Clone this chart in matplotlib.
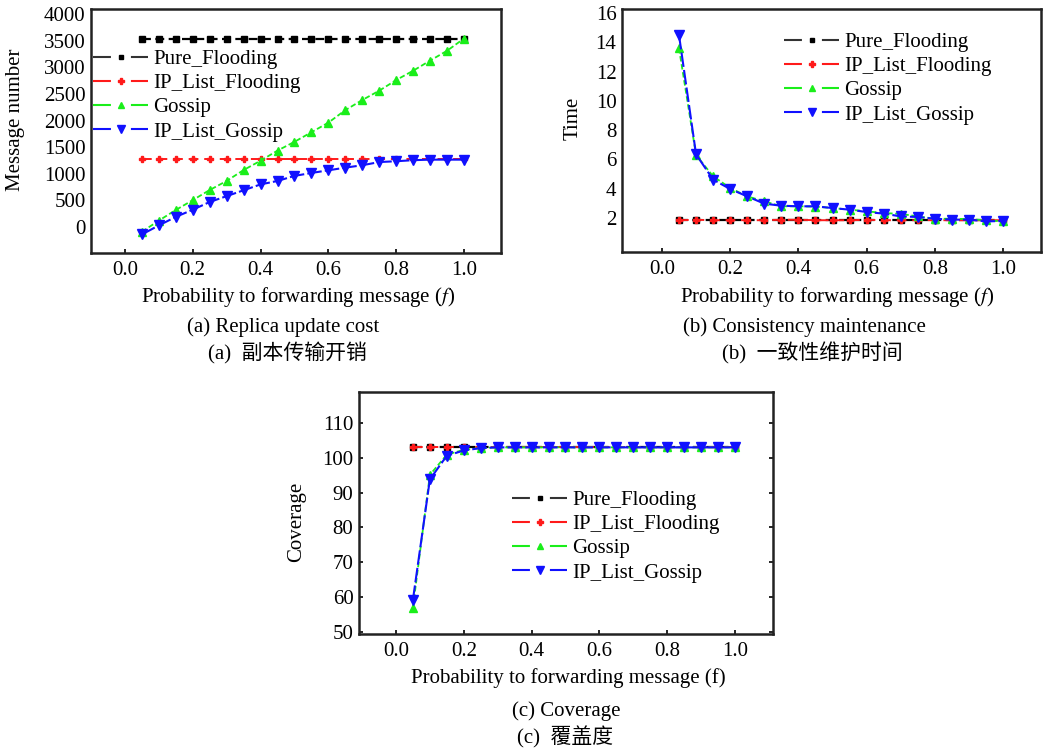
import matplotlib
matplotlib.use('Agg')
import matplotlib.pyplot as plt
from matplotlib.lines import Line2D

W, H = 1045, 749

f_vals = [0.05, 0.10, 0.15, 0.20, 0.25, 0.30, 0.35, 0.40, 0.45, 0.50,
          0.55, 0.60, 0.65, 0.70, 0.75, 0.80, 0.85, 0.90, 0.95, 1.00]

series_names = ['Pure_Flooding', 'IP_List_Flooding', 'Gossip', 'IP_List_Gossip']

# (a) replica update cost
cost_pure = [3530, 3530, 3530, 3530, 3530, 3530, 3530, 3530, 3530, 3530,
             3530, 3530, 3530, 3530, 3530, 3530, 3530, 3530, 3530, 3530]
cost_ip_flood = [1270, 1270, 1270, 1270, 1270, 1270, 1270, 1270, 1270, 1270,
                 1270, 1270, 1270, 1270, 1270, 1270, 1270, 1270, 1270, 1270]
cost_gossip = [-90, 120, 320, 505, 695, 865, 1070, 1245, 1435, 1600,
               1780, 1960, 2195, 2385, 2560, 2760, 2935, 3125, 3310, 3540]
cost_ip_gossip = [-140, 30, 190, 325, 470, 580, 690, 800, 865, 960,
                  1015, 1065, 1115, 1160, 1220, 1235, 1255, 1265, 1265, 1265]

# (b) consistency maintenance time
time_pure = [1.85, 1.85, 1.85, 1.85, 1.85, 1.85, 1.85, 1.85, 1.85, 1.85,
             1.85, 1.85, 1.85, 1.85, 1.85, 1.85, 1.85, 1.85, 1.85, 1.85]
time_ip_flood = [1.85, 1.88, 1.85, 1.85, 1.85, 1.85, 1.88, 1.88, 1.85, 1.85,
                 1.85, 1.88, 1.85, 1.85, 1.85, 1.85, 1.85, 1.85, 1.85, 1.85]
time_gossip = [13.6, 6.3, 4.85, 4.05, 3.48, 3.14, 2.8, 2.8, 2.78, 2.68,
               2.57, 2.46, 2.34, 2.28, 2.11, 1.95, 1.95, 1.93, 1.84, 1.77]
time_ip_gossip = [14.5, 6.35, 4.62, 3.98, 3.48, 2.98, 2.84, 2.8, 2.8, 2.68,
                  2.57, 2.41, 2.3, 2.11, 2.07, 1.95, 1.89, 1.89, 1.77, 1.8]

# (c) coverage
cov_pure = [103, 103, 103, 103, 103, 103, 103, 103, 103, 103,
            103, 103, 103, 103, 103, 103, 103, 103, 103, 103]
cov_ip_flood = [103, 103, 103, 103, 103, 103, 103, 103, 103, 103,
                103, 103, 103, 103, 103, 103, 103, 103, 103, 103]
cov_gossip = [57, 95.1, 100.9, 102.3, 102.8, 103, 103, 103, 103, 103,
              103, 103, 103, 103, 103, 103, 103, 103, 103, 103]
cov_ip_gossip = [59.2, 93.8, 100.6, 102.1, 102.8, 103, 103, 103, 103, 103,
                 103, 103, 103, 103, 103, 103, 103, 103, 103, 103]

x_ticks = [0.0, 0.2, 0.4, 0.6, 0.8, 1.0]
x_tick_labels = ['0.0', '0.2', '0.4', '0.6', '0.8', '1.0']

SERIF = ['Liberation Serif', 'DejaVu Serif']
CJK = ['Liberation Serif', 'Noto Sans CJK SC', 'DejaVu Sans']
FS = 15

plt.rcParams['font.family'] = SERIF
plt.rcParams['mathtext.fontset'] = 'stix'

styles = [
    dict(color='black', marker='s', ms=4, ls=(0, (4, 2)), lw=1.6),
    dict(color='#ff1a1a', marker='P', ms=5, ls=(0, (5, 3)), lw=1.4),
    dict(color='#1aee1a', marker='^', ms=6, ls=(0, (3, 1.5)), lw=1.3),
    dict(color='#1010ff', marker='v', ms=6.5, ls=(0, (7, 1.5)), lw=1.5),
]


def px_axes(left, top, right, bottom):
    return fig.add_axes([left / W, 1 - bottom / H, (right - left) / W, (bottom - top) / H])


def ftext(x, y, s, **kw):
    fig.text(x / W, 1 - y / H, s, ha='center', va='center', fontsize=FS, **kw)


def draw_panel(ax, ys, xlim, ylim, yticks, legend_xy):
    for y, st in zip(ys, styles):
        ax.plot(f_vals, y, color=st['color'], marker=st['marker'], ms=st['ms'],
                ls=st['ls'], lw=st['lw'], mec=st['color'])
    ax.set_xlim(*xlim)
    ax.set_ylim(*ylim)
    ax.set_xticks(x_ticks)
    ax.set_xticklabels(x_tick_labels)
    ax.set_yticks(yticks)
    ax.set_yticklabels([str(t) for t in yticks])
    ax.tick_params(axis='x', direction='in', length=3, width=1.2, pad=6, labelsize=FS)
    ax.tick_params(axis='y', direction='in', length=0, pad=4, labelsize=FS)
    for sp in ax.spines.values():
        sp.set_linewidth(1.8)
        sp.set_color('#222222')

    handles = []
    for st in styles:
        lc = '#333333' if st['color'] == 'black' else st['color']
        handles.append(Line2D([0], [0], color=lc, lw=1.5, dashes=(8.6, 9.6),
                              marker=st['marker'], ms=st['ms'] * 0.8,
                              mfc=st['color'], mec=st['color']))
    fig.legend(handles, series_names, loc='upper left',
               bbox_to_anchor=(legend_xy[0] / W, 1 - legend_xy[1] / H),
               frameon=False, fontsize=FS, handlelength=2.65, handletextpad=0.25,
               labelspacing=0.22, borderpad=0, borderaxespad=0, numpoints=1)


fig = plt.figure(figsize=(W / 100, H / 100), dpi=100)

# (a)
ax_a = px_axes(91, 9, 501, 253)
draw_panel(ax_a, [cost_pure, cost_ip_flood, cost_gossip, cost_ip_gossip],
           (-0.1, 1.109), (-488, 4094), list(range(0, 4001, 500)), (93, 49.5))
ftext(298, 297, 'Probability to forwarding message ($\\mathit{f}$)')
ftext(16, 120, 'Message number', rotation=90)
ftext(283, 327, '(a) Replica update cost')
ftext(287, 353, '(a)  副本传输开销', family=CJK, fontweight='medium')

# (b)
ax_b = px_axes(622, 9, 1041, 252)
draw_panel(ax_b, [time_pure, time_ip_flood, time_gossip, time_ip_gossip],
           (-0.117, 1.111), (-0.32, 16.27), list(range(2, 17, 2)), (784, 32.5))
ftext(837, 297, 'Probability to forwarding message ($\\mathit{f}$)')
ftext(573, 118, 'Time', rotation=90)
ftext(804, 327, '(b) Consistency maintenance')
ftext(812, 353, '(b)  一致性维护时间', family=CJK, fontweight='medium')

# (c)
ax_c = px_axes(359, 392, 773, 634)
draw_panel(ax_c, [cov_pure, cov_ip_flood, cov_gossip, cov_ip_gossip],
           (-0.109, 1.112), (49.4, 118.9), list(range(50, 111, 10)), (512, 490.5))
ax_c.tick_params(axis='y', right=True, length=3, width=1.2)
ftext(568, 678, 'Probability to forwarding message (f)')
ftext(297, 522, 'Coverage', rotation=90)
ftext(566, 711, '(c) Coverage')
ftext(565, 737, '(c)  覆盖度', family=CJK, fontweight='medium')

fig.savefig('out.png', dpi=100)
